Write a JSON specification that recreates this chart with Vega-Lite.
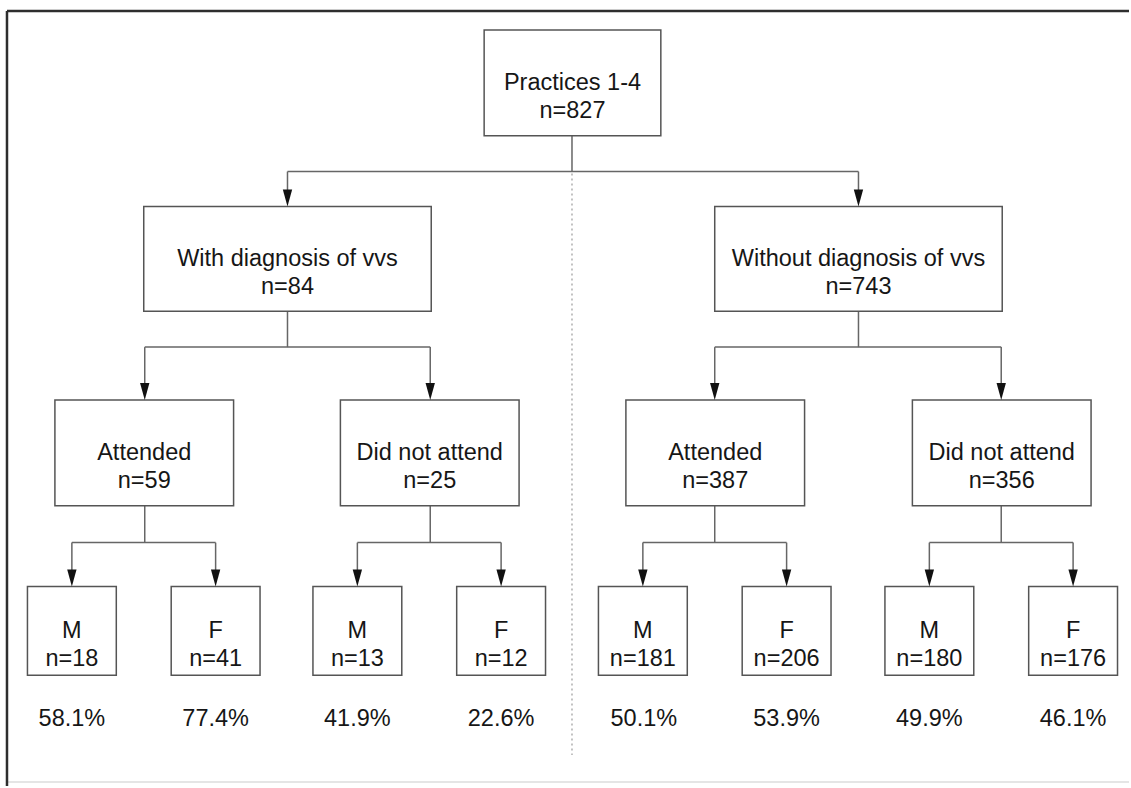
{
  "$schema": "https://vega.github.io/schema/vega-lite/v6.json",
  "width": 1131,
  "height": 788,
  "autosize": {"type": "fit", "contains": "padding"},
  "padding": 0,
  "background": "#ffffff",
  "config": {"view": {"stroke": null}, "font": "Liberation Sans"},
  "datasets": {
    "boxes": [
      {"id": "root", "x1": 485, "x2": 662, "y1": 30, "y2": 136, "cx": 573.5, "cy": 83, "label": "Practices 1-4\nn=827"},
      {"id": "with", "x1": 144, "x2": 432, "y1": 207, "y2": 312, "cx": 288, "cy": 260, "label": "With diagnosis of vvs\nn=84"},
      {"id": "without", "x1": 716, "x2": 1004, "y1": 207, "y2": 312, "cx": 860, "cy": 260, "label": "Without diagnosis of vvs\nn=743"},
      {"id": "with_att", "x1": 55, "x2": 234, "y1": 401, "y2": 507, "cx": 144.5, "cy": 454, "label": "Attended\nn=59"},
      {"id": "with_dna", "x1": 341, "x2": 520, "y1": 401, "y2": 507, "cx": 430.5, "cy": 454, "label": "Did not attend\nn=25"},
      {"id": "without_att", "x1": 627, "x2": 806, "y1": 401, "y2": 507, "cx": 716.5, "cy": 454, "label": "Attended\nn=387"},
      {"id": "without_dna", "x1": 914, "x2": 1093, "y1": 401, "y2": 507, "cx": 1003.5, "cy": 454, "label": "Did not attend\nn=356"},
      {"id": "m1", "x1": 27.5, "x2": 116.5, "y1": 588, "y2": 677, "cx": 72, "cy": 633, "label": "M\nn=18"},
      {"id": "f1", "x1": 171.5, "x2": 260.5, "y1": 588, "y2": 677, "cx": 216, "cy": 633, "label": "F\nn=41"},
      {"id": "m2", "x1": 313.5, "x2": 402.5, "y1": 588, "y2": 677, "cx": 358, "cy": 633, "label": "M\nn=13"},
      {"id": "f2", "x1": 457.5, "x2": 546.5, "y1": 588, "y2": 677, "cx": 502, "cy": 633, "label": "F\nn=12"},
      {"id": "m3", "x1": 599.5, "x2": 688.5, "y1": 588, "y2": 677, "cx": 644, "cy": 633, "label": "M\nn=181"},
      {"id": "f3", "x1": 743.5, "x2": 832.5, "y1": 588, "y2": 677, "cx": 788, "cy": 633, "label": "F\nn=206"},
      {"id": "m4", "x1": 886.5, "x2": 975.5, "y1": 588, "y2": 677, "cx": 931, "cy": 633, "label": "M\nn=180"},
      {"id": "f4", "x1": 1030.5, "x2": 1119.5, "y1": 588, "y2": 677, "cx": 1075, "cy": 633, "label": "F\nn=176"}
    ],
    "connectors": [
      {"x1": 573, "y1": 136, "x2": 573, "y2": 172},
      {"x1": 288, "y1": 172, "x2": 860, "y2": 172},
      {"x1": 288, "y1": 172, "x2": 288, "y2": 200},
      {"x1": 860, "y1": 172, "x2": 860, "y2": 200},
      {"x1": 288, "y1": 312, "x2": 288, "y2": 348},
      {"x1": 145, "y1": 348, "x2": 431, "y2": 348},
      {"x1": 145, "y1": 348, "x2": 145, "y2": 394},
      {"x1": 431, "y1": 348, "x2": 431, "y2": 394},
      {"x1": 860, "y1": 312, "x2": 860, "y2": 348},
      {"x1": 716, "y1": 348, "x2": 1003, "y2": 348},
      {"x1": 716, "y1": 348, "x2": 716, "y2": 394},
      {"x1": 1003, "y1": 348, "x2": 1003, "y2": 394},
      {"x1": 145, "y1": 507, "x2": 145, "y2": 544},
      {"x1": 72, "y1": 544, "x2": 216, "y2": 544},
      {"x1": 72, "y1": 544, "x2": 72, "y2": 581},
      {"x1": 216, "y1": 544, "x2": 216, "y2": 581},
      {"x1": 431, "y1": 507, "x2": 431, "y2": 544},
      {"x1": 358, "y1": 544, "x2": 502, "y2": 544},
      {"x1": 358, "y1": 544, "x2": 358, "y2": 581},
      {"x1": 502, "y1": 544, "x2": 502, "y2": 581},
      {"x1": 716, "y1": 507, "x2": 716, "y2": 544},
      {"x1": 644, "y1": 544, "x2": 788, "y2": 544},
      {"x1": 644, "y1": 544, "x2": 644, "y2": 581},
      {"x1": 788, "y1": 544, "x2": 788, "y2": 581},
      {"x1": 1003, "y1": 507, "x2": 1003, "y2": 544},
      {"x1": 931, "y1": 544, "x2": 1075, "y2": 544},
      {"x1": 931, "y1": 544, "x2": 931, "y2": 581},
      {"x1": 1075, "y1": 544, "x2": 1075, "y2": 581}
    ],
    "arrows": [
      {"x": 288, "y": 207}, {"x": 860, "y": 207},
      {"x": 145, "y": 401}, {"x": 431, "y": 401}, {"x": 716, "y": 401}, {"x": 1003, "y": 401},
      {"x": 72, "y": 588}, {"x": 216, "y": 588}, {"x": 358, "y": 588}, {"x": 502, "y": 588},
      {"x": 644, "y": 588}, {"x": 788, "y": 588}, {"x": 931, "y": 588}, {"x": 1075, "y": 588}
    ],
    "divider": [{"x1": 573, "y1": 174, "x2": 573, "y2": 757}],
    "frameDark": [
      {"x1": 7, "y1": 11, "x2": 1131, "y2": 11},
      {"x1": 7, "y1": 11, "x2": 7, "y2": 788}
    ],
    "frameLight": [{"x1": 7, "y1": 784, "x2": 1131, "y2": 784}],
    "percents": [
      {"x": 72, "y": 721, "pct": "58.1%"},
      {"x": 216, "y": 721, "pct": "77.4%"},
      {"x": 358, "y": 721, "pct": "41.9%"},
      {"x": 502, "y": 721, "pct": "22.6%"},
      {"x": 645, "y": 721, "pct": "50.1%"},
      {"x": 788, "y": 721, "pct": "53.9%"},
      {"x": 931, "y": 721, "pct": "49.9%"},
      {"x": 1075, "y": 721, "pct": "46.1%"}
    ]
  },
  "layer": [
    {
      "data": {"name": "frameLight"},
      "mark": {"type": "rule", "color": "#dcdcdc", "strokeWidth": 1.5},
      "encoding": {
        "x": {"field": "x1", "type": "quantitative", "scale": {"domain": [0, 1131], "nice": false, "zero": false}, "axis": null},
        "y": {"field": "y1", "type": "quantitative", "scale": {"domain": [0, 788], "nice": false, "zero": false, "reverse": true}, "axis": null},
        "x2": {"field": "x2"},
        "y2": {"field": "y2"}
      }
    },
    {
      "data": {"name": "frameDark"},
      "mark": {"type": "rule", "color": "#2e2e2e", "strokeWidth": 2.5},
      "encoding": {
        "x": {"field": "x1", "type": "quantitative", "scale": {"domain": [0, 1131], "nice": false, "zero": false}, "axis": null},
        "y": {"field": "y1", "type": "quantitative", "scale": {"domain": [0, 788], "nice": false, "zero": false, "reverse": true}, "axis": null},
        "x2": {"field": "x2"},
        "y2": {"field": "y2"}
      }
    },
    {
      "data": {"name": "divider"},
      "mark": {"type": "rule", "color": "#9a9a9a", "strokeWidth": 1.2, "strokeDash": [2, 3]},
      "encoding": {
        "x": {"field": "x1", "type": "quantitative", "scale": {"domain": [0, 1131], "nice": false, "zero": false}, "axis": null},
        "y": {"field": "y1", "type": "quantitative", "scale": {"domain": [0, 788], "nice": false, "zero": false, "reverse": true}, "axis": null},
        "x2": {"field": "x2"},
        "y2": {"field": "y2"}
      }
    },
    {
      "data": {"name": "connectors"},
      "mark": {"type": "rule", "color": "#666666", "strokeWidth": 1.5},
      "encoding": {
        "x": {"field": "x1", "type": "quantitative", "scale": {"domain": [0, 1131], "nice": false, "zero": false}, "axis": null},
        "y": {"field": "y1", "type": "quantitative", "scale": {"domain": [0, 788], "nice": false, "zero": false, "reverse": true}, "axis": null},
        "x2": {"field": "x2"},
        "y2": {"field": "y2"}
      }
    },
    {
      "data": {"name": "boxes"},
      "mark": {"type": "rect", "fill": "#ffffff", "stroke": "#555555", "strokeWidth": 1.5},
      "encoding": {
        "x": {"field": "x1", "type": "quantitative", "scale": {"domain": [0, 1131], "nice": false, "zero": false}, "axis": null},
        "y": {"field": "y1", "type": "quantitative", "scale": {"domain": [0, 788], "nice": false, "zero": false, "reverse": true}, "axis": null},
        "x2": {"field": "x2"},
        "y2": {"field": "y2"}
      }
    },
    {
      "data": {"name": "arrows"},
      "mark": {"type": "point", "shape": "M-0.55,-1L0.55,-1L0,1Z", "size": 289, "filled": true, "color": "#111111", "opacity": 1, "yOffset": -8.5},
      "encoding": {
        "x": {"field": "x", "type": "quantitative", "scale": {"domain": [0, 1131], "nice": false, "zero": false}, "axis": null},
        "y": {"field": "y", "type": "quantitative", "scale": {"domain": [0, 788], "nice": false, "zero": false, "reverse": true}, "axis": null}
      }
    },
    {
      "data": {"name": "boxes"},
      "mark": {"type": "text", "font": "Liberation Sans", "fontSize": 23.5, "lineHeight": 28, "lineBreak": "\n", "align": "center", "baseline": "middle", "color": "#161616"},
      "encoding": {
        "x": {"field": "cx", "type": "quantitative", "scale": {"domain": [0, 1131], "nice": false, "zero": false}, "axis": null},
        "y": {"field": "cy", "type": "quantitative", "scale": {"domain": [0, 788], "nice": false, "zero": false, "reverse": true}, "axis": null},
        "text": {"field": "label"}
      }
    },
    {
      "data": {"name": "percents"},
      "mark": {"type": "text", "font": "Liberation Sans", "fontSize": 23.5, "align": "center", "baseline": "middle", "color": "#161616"},
      "encoding": {
        "x": {"field": "x", "type": "quantitative", "scale": {"domain": [0, 1131], "nice": false, "zero": false}, "axis": null},
        "y": {"field": "y", "type": "quantitative", "scale": {"domain": [0, 788], "nice": false, "zero": false, "reverse": true}, "axis": null},
        "text": {"field": "pct"}
      }
    }
  ]
}
